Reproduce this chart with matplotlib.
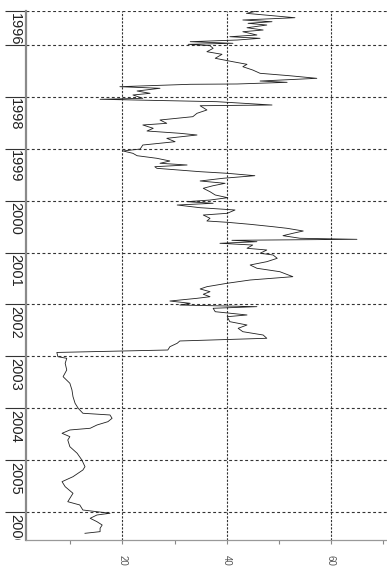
import matplotlib
matplotlib.use("Agg")
import matplotlib.pyplot as plt
import matplotlib.transforms as mtransforms

plt.rcParams['font.family'] = ['Liberation Sans', 'DejaVu Sans']

# Time (decimal year) and index level
dates = [
    1996.345, 1996.390, 1996.474, 1996.518, 1996.551, 1996.582, 1996.615, 1996.667,
    1996.711, 1996.744, 1996.807, 1996.840, 1996.871, 1996.904, 1996.936, 1996.967,
    1996.987, 1997.013, 1997.064, 1997.129, 1997.179, 1997.256, 1997.322, 1997.372,
    1997.418, 1997.482, 1997.545, 1997.592, 1997.642, 1997.694, 1997.719, 1997.751,
    1997.757, 1997.803, 1997.834, 1997.886, 1997.931, 1997.963, 1998.027, 1998.046,
    1998.092, 1998.156, 1998.170, 1998.252, 1998.316, 1998.381, 1998.445, 1998.509,
    1998.541, 1998.605, 1998.657, 1998.701, 1998.734, 1998.798, 1998.863, 1998.927,
    1999.004, 1999.042, 1999.087, 1999.133, 1999.183, 1999.235, 1999.279, 1999.312,
    1999.345, 1999.376, 1999.441, 1999.472, 1999.518, 1999.568, 1999.620, 1999.665,
    1999.711, 1999.761, 1999.827, 1999.890, 1999.942, 1999.987, 2000.019, 2000.050,
    2000.083, 2000.135, 2000.179, 2000.243, 2000.276, 2000.339, 2000.391, 2000.416,
    2000.455, 2000.501, 2000.532, 2000.584, 2000.628, 2000.674, 2000.724, 2000.744,
    2000.763, 2000.790, 2000.821, 2000.854, 2000.917, 2000.950, 2001.013, 2001.046,
    2001.110, 2001.175, 2001.239, 2001.302, 2001.368, 2001.464, 2001.528, 2001.591,
    2001.657, 2001.701, 2001.753, 2001.803, 2001.850, 2001.881, 2001.933, 2001.977,
    2002.010, 2002.042, 2002.073, 2002.139, 2002.202, 2002.235, 2002.331, 2002.395,
    2002.459, 2002.524, 2002.588, 2002.651, 2002.703, 2002.747, 2002.813, 2002.877,
    2002.924, 2003.006, 2003.037, 2003.133, 2003.262, 2003.391, 2003.518, 2003.647,
    2003.776, 2003.904, 2004.000, 2004.096, 2004.129, 2004.193, 2004.258, 2004.322,
    2004.385, 2004.418, 2004.482, 2004.547, 2004.611, 2004.740, 2004.867, 2004.996,
    2005.125, 2005.189, 2005.318, 2005.414, 2005.511, 2005.638, 2005.800, 2005.863,
    2005.960, 2006.023, 2006.056, 2006.120, 2006.185, 2006.249, 2006.312, 2006.377,
    2006.409,
]
values = [
    45.8, 43.8, 53.1, 43.1, 48.7, 44.1, 47.7, 43.9,
    47.0, 43.1, 45.8, 40.6, 46.4, 42.0, 33.0, 41.2,
    32.6, 36.8, 37.4, 36.2, 39.1, 37.8, 41.2, 43.9,
    43.1, 45.0, 46.4, 52.1, 57.3, 46.4, 51.6, 42.0,
    33.0, 19.5, 27.2, 22.8, 25.3, 22.0, 23.9, 15.7,
    38.1, 48.7, 34.9, 36.2, 34.3, 33.5, 27.2, 28.5,
    23.9, 25.9, 24.7, 31.0, 34.3, 28.5, 30.1, 23.9,
    23.4, 20.1, 22.0, 22.8, 26.6, 29.1, 27.2, 32.4,
    26.2, 26.6, 34.9, 40.1, 45.4, 39.3, 34.9, 39.7,
    37.4, 35.5, 36.8, 37.8, 40.2, 36.8, 32.4, 37.4,
    30.5, 34.9, 41.6, 40.1, 35.5, 36.8, 36.2, 40.1,
    44.5, 48.9, 51.6, 54.7, 52.7, 50.8, 54.1, 65.0,
    41.0, 45.8, 38.7, 45.0, 43.9, 47.7, 46.4, 48.9,
    49.7, 47.7, 44.5, 45.8, 50.2, 52.7, 44.5, 40.1,
    36.2, 34.9, 36.8, 35.5, 36.8, 34.3, 29.1, 33.0,
    31.0, 45.8, 37.4, 37.8, 43.9, 40.1, 40.6, 43.9,
    42.2, 43.1, 47.0, 47.7, 31.0, 30.5, 29.1, 28.7,
    7.4, 7.6, 9.3, 9.0, 9.3, 8.6, 9.9, 10.3,
    10.5, 10.9, 11.5, 12.4, 17.6, 18.0, 17.2, 15.1,
    13.8, 9.9, 8.4, 9.9, 9.5, 9.9, 11.3, 12.2,
    12.8, 12.4, 10.5, 8.4, 9.0, 10.5, 9.5, 11.8,
    12.4, 17.6, 15.1, 13.8, 15.1, 16.1, 15.7, 15.7,
    12.8,
]

# Time axis ticks: series start plus calendar years
year_ticks = [1996.345, 1997, 1998, 1999, 2000, 2001, 2002, 2003, 2004, 2005, 2006]
year_labels = ['1996', '', '1998', '1999', '2000', '2001', '2002', '2003', '2004', '2005', '2006']

# Value axis ticks
value_major = [20, 40, 60]
value_minor = [10, 30, 50, 70]
value_labels = ['20', '40', '60']

W, H = 387, 577
fig = plt.figure(figsize=(W / 100, H / 100), dpi=100)
ax_left, ax_right, ax_top, ax_bottom = 26, 387, 10.5, 540
ax = fig.add_axes([ax_left / W, (H - ax_bottom) / H,
                   (ax_right - ax_left) / W, (ax_bottom - ax_top) / H])

ax.plot(values, dates, color='#202020', lw=0.6, zorder=3)

ax.set_xlim(1.48, 70.77)
ax.set_ylim(2006.538, 1996.335)

# value axis along the bottom
ax.set_xticks(value_major)
ax.set_xticklabels(value_labels)
ax.set_xticks(value_minor, minor=True)
ax.tick_params(axis='x', which='both', direction='out', length=3,
               width=0.8, color='#888888')
ax.tick_params(axis='x', which='major', labelrotation=-90, labelsize=7,
               labelcolor='#555555', pad=8)

# time axis along the left edge, long outward ticks
ax.set_yticks(year_ticks)
ax.set_yticklabels([''] * len(year_ticks))
ax.tick_params(axis='y', which='major', direction='out', length=15,
               width=0.8, color='#333333')

ax.xaxis.grid(True, which='major', color='#333333', lw=0.8,
              linestyle=(0, (2.0, 1.3)))
ax.yaxis.grid(True, which='major', color='#333333', lw=0.8,
              linestyle=(0, (2.6, 2.2)))
ax.set_axisbelow(True)

for side in ('top', 'right'):
    ax.spines[side].set_visible(False)
ax.spines['left'].set_color('#8a8a8a')
ax.spines['left'].set_linewidth(1.6)
ax.spines['bottom'].set_color('#999999')
ax.spines['bottom'].set_linewidth(0.9)

# year labels set just after each tick, clipped to the axis span
trans = mtransforms.blended_transform_factory(ax.transAxes, ax.transData)
trans = trans + mtransforms.ScaledTranslation(0, -1.5 / 100, fig.dpi_scale_trans)
clip = mtransforms.TransformedBbox(
    mtransforms.Bbox.from_extents(0, (H - ax_bottom) / H, 1, 1), fig.transFigure)
for pos, lab in zip(year_ticks, year_labels):
    if not lab:
        continue
    t = ax.text(-11 / (ax_right - ax_left), pos, lab, transform=trans,
                rotation=-90, ha='center', va='top', fontsize=10.5,
                color='#222222', clip_on=True)
    t.set_clip_box(clip)

fig.savefig('out.png', dpi=100, facecolor='white')
